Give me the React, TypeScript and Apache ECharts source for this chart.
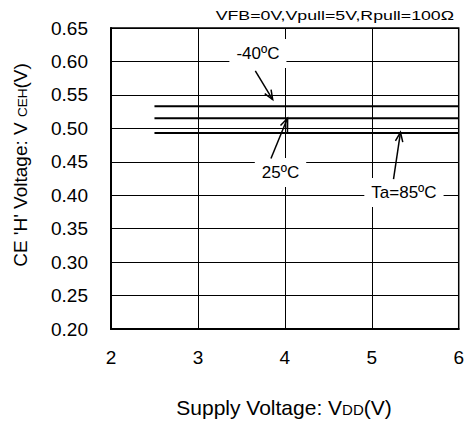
import React, { useEffect, useRef } from "react";
import * as echarts from "echarts";

// Supply voltage range over which each curve was measured
const xStart = 2.5;
const xEnd = 6;

// CE 'H' voltage per ambient temperature (V)
const temps = ["-40ºC", "25ºC", "Ta=85ºC"];
const vceh = [0.533, 0.515, 0.493];

// Axis ticks
const xTicks = [2, 3, 4, 5, 6];
const yTicks = [0.2, 0.25, 0.3, 0.35, 0.4, 0.45, 0.5, 0.55, 0.6, 0.65];

// Callouts in data coordinates: label centre, arrow tail, arrow head
const callouts = [
  { text: temps[0], label: [3.69, 0.612], from: [3.66, 0.586], to: [3.86, 0.543], tick: null as null | number },
  { text: temps[1], label: [3.95, 0.434], from: [3.84, 0.455], to: [4.03, vceh[1]], tick: vceh[2] },
  { text: temps[2], label: [5.37, 0.404], from: [5.25, 0.424], to: [5.33, 0.494], tick: null },
];

const FONT = "'Liberation Sans', Arial, Helvetica, sans-serif";

export default function App() {
  const ref = useRef<HTMLDivElement>(null);

  useEffect(() => {
    document.body.style.margin = "0";
    const chart = echarts.init(ref.current!, null, { renderer: "svg" });

    chart.setOption({
      animation: false,
      backgroundColor: "#fff",
      textStyle: { fontFamily: FONT },
      grid: {
        left: 111,
        right: 8,
        top: 28,
        bottom: 92,
        show: true,
        borderColor: "#000",
        borderWidth: 1.5,
      },
      xAxis: {
        type: "value",
        min: xTicks[0],
        max: xTicks[xTicks.length - 1],
        interval: 1,
        axisLine: { show: true, lineStyle: { color: "#000", width: 2 } },
        axisTick: { show: false },
        splitLine: { show: true, lineStyle: { color: "#000", width: 1 } },
        axisLabel: { color: "#000", fontSize: 19, margin: 19, fontFamily: FONT },
      },
      yAxis: {
        type: "value",
        min: yTicks[0],
        max: yTicks[yTicks.length - 1],
        interval: 0.05,
        axisLine: { show: true, lineStyle: { color: "#000", width: 2 } },
        axisTick: { show: false },
        splitLine: { show: true, lineStyle: { color: "#000", width: 1 } },
        axisLabel: {
          color: "#000",
          fontSize: 19,
          margin: 23,
          fontFamily: FONT,
          formatter: (v: number) => v.toFixed(2),
        },
      },
      series: temps.map((t, i) => ({
        name: t,
        type: "line",
        symbol: "none",
        lineStyle: { color: "#000", width: 2 },
        data: [
          [xStart, vceh[i]],
          [xEnd, vceh[i]],
        ],
        z: 3,
      })),
    });

    const px = (p: number[]) => chart.convertToPixel({ gridIndex: 0 }, p) as number[];

    const graphics: any[] = [];

    // Test condition, right-aligned above the plot (wide lettering)
    graphics.push({
      type: "text",
      x: 454,
      y: 16,
      scaleX: 1.42,
      style: {
        text: "VFB=0V,Vpull=5V,Rpull=100Ω",
        font: `12.5px ${FONT}`,
        fill: "#000",
        align: "right",
        verticalAlign: "middle",
      },
    });

    // Axis titles with subscripted symbols
    graphics.push({
      type: "text",
      x: 20,
      y: 165,
      rotation: Math.PI / 2,
      style: {
        text: "{a|CE 'H' Voltage: V }{b|CEH}{a|(V)}",
        rich: {
          a: { fontSize: 19, fontFamily: FONT, fill: "#000" },
          b: { fontSize: 13.5, fontFamily: FONT, fill: "#000", padding: [5, 0, 0, 0] },
        },
        align: "center",
        verticalAlign: "middle",
      },
    });
    graphics.push({
      type: "text",
      x: 284,
      y: 407,
      style: {
        text: "{a|Supply Voltage: V}{b|DD}{a|(V)}",
        rich: {
          a: { fontSize: 21, fontFamily: FONT, fill: "#000" },
          b: { fontSize: 15, fontFamily: FONT, fill: "#000", padding: [5, 0, 0, 0] },
        },
        align: "center",
        verticalAlign: "middle",
      },
    });

    // Temperature callouts with open arrowheads
    callouts.forEach((c) => {
      const l = px(c.label);
      const a = px(c.from);
      const b = px(c.to);
      graphics.push({
        type: "text",
        x: l[0],
        y: l[1],
        z: 10,
        style: {
          text: c.text,
          font: `17px ${FONT}`,
          fill: "#000",
          align: "center",
          verticalAlign: "middle",
          backgroundColor: "#fff",
          padding: [6, 7, 6, 7],
        },
      });
      const ang = Math.atan2(b[1] - a[1], b[0] - a[0]);
      const len = 10;
      const spread = 0.38;
      const h1 = [b[0] - len * Math.cos(ang - spread), b[1] - len * Math.sin(ang - spread)];
      const h2 = [b[0] - len * Math.cos(ang + spread), b[1] - len * Math.sin(ang + spread)];
      graphics.push({
        type: "line",
        z: 11,
        shape: { x1: a[0], y1: a[1], x2: b[0], y2: b[1] },
        style: { stroke: "#000", lineWidth: 1.5 },
      });
      graphics.push({
        type: "polyline",
        z: 11,
        shape: { points: [h1, b, h2] },
        style: { stroke: "#000", lineWidth: 1.5, fill: "none" },
      });
      if (c.tick !== null) {
        const t = px([c.to[0], c.tick]);
        graphics.push({
          type: "line",
          z: 11,
          shape: { x1: b[0], y1: b[1], x2: t[0], y2: t[1] },
          style: { stroke: "#000", lineWidth: 1.5 },
        });
      }
    });

    chart.setOption({ graphic: graphics });

    return () => chart.dispose();
  }, []);

  return <div ref={ref} style={{ width: 467, height: 421 }} />;
}
